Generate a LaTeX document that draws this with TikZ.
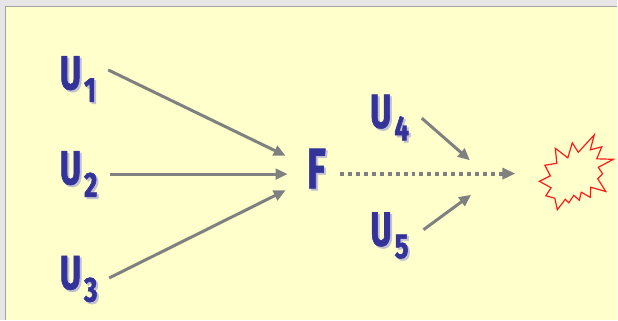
\documentclass[tikz,border=0pt]{standalone}
\usepackage{fontspec}
\newfontfamily\labfont{Fira Sans}[FakeStretch=0.68,BoldFeatures={FakeBold=1.2}]
\newfontfamily\subfont{Fira Sans}[FakeStretch=0.74,BoldFeatures={FakeBold=1.4}]
\usetikzlibrary{arrows.meta}

\definecolor{outer}{HTML}{E8E5E6}
\definecolor{panel}{HTML}{FFFFCC}
\definecolor{frame}{HTML}{A3A3A3}
\definecolor{ink}{HTML}{333399}
\definecolor{shade}{HTML}{C2C1CF}
\definecolor{arrowgray}{HTML}{808080}
\definecolor{burst}{HTML}{FF1A1A}

\tikzset{
  varname/.style={inner sep=0pt, anchor=base west, text=ink,
    font=\labfont\bfseries\fontsize{48}{48}\selectfont},
  bigname/.style={varname, font=\labfont\bfseries\fontsize{57}{57}\selectfont},
  flow/.style={draw=arrowgray, line width=3pt,
    -{Triangle[length=12pt,width=10.5pt]}},
  delayed/.style={flow, line width=4pt, dash pattern=on 4pt off 4pt,
    -{Triangle[length=13pt,width=11pt]}},
  burstline/.style={draw=burst, line width=1.2pt, line join=miter}
}

% a variable name with its subscript
\newcommand\subvar[1]{U\kern3pt\raisebox{-12.5pt}{\subfont\bfseries\fontsize{35}{35}\selectfont #1}}
% text with a soft drop shadow behind it, in one box
\newcommand\dropshadow[1]{%
  \makebox[0pt][l]{\kern2pt\raisebox{-2pt}{\color{shade}#1}}#1}

\begin{document}
\begin{tikzpicture}[x=1pt,y=-1pt]
  % backdrop and panel
  \fill[outer] (0,0) rectangle (618,320);
  \fill[panel] (5.5,6.5) rectangle (618,320);
  \draw[frame, line width=1.5pt] (5.5,320) -- (5.5,6.5) -- (618,6.5);
  \useasboundingbox (0,0) rectangle (618,320);

  % names
  \node[varname] (u1) at (59.7,89.5) {\dropshadow{\subvar{1}}};
  \node[varname] (u2) at (59.7,184.5) {\dropshadow{\subvar{2}}};
  \node[varname] (u3) at (59.7,289.5) {\dropshadow{\subvar{3}}};
  \node[varname] (u4) at (370.4,128) {\dropshadow{\subvar{4}}};
  \node[varname] (u5) at (370.7,246) {\dropshadow{\subvar{5}}};
  \node[bigname] (f) at (307,188.5) {\dropshadow{F}};

  % connector end points
  \coordinate (u1o) at (108.3,70);
  \coordinate (u2o) at (110,174.3);
  \coordinate (u3o) at (109.3,278.3);
  \coordinate (f1) at (286,156);
  \coordinate (f2) at (288,174.3);
  \coordinate (f3) at (286,190.5);
  \coordinate (fo) at (340,173.8);
  \coordinate (hit) at (516,173.8);
  \coordinate (u4o) at (422.3,118.3);
  \coordinate (u5o) at (424,230);
  \coordinate (h4) at (470.5,160.5);
  \coordinate (h5) at (471.7,195);

  \draw[flow] (u1o) -- (f1);
  \draw[flow] (u2o) -- (f2);
  \draw[flow] (u3o) -- (f3);
  \draw[delayed] (fo) -- (hit);
  \draw[flow] (u4o) -- (h4);
  \draw[flow] (u5o) -- (h5);

  % the event burst
  \draw[burstline] (595,135) -- (591,150) -- (602.5,147) -- (597.5,159) -- (614,159.5)
    -- (599,167.5) -- (603.3,174) -- (598.5,179) -- (606.5,191.7) -- (591.5,187.5)
    -- (591,197.5) -- (582,192.5) -- (580,200.5) -- (574.5,195.5) -- (569.5,203)
    -- (566,199.5) -- (558,210) -- (555.5,198.5) -- (546.5,196) -- (551.7,188)
    -- (540,181.5) -- (551,176) -- (545.5,165.5) -- (557.5,163.5) -- (556,148.5)
    -- (568.5,158) -- (573,143) -- (579,152.5) -- cycle;
\end{tikzpicture}
\end{document}
